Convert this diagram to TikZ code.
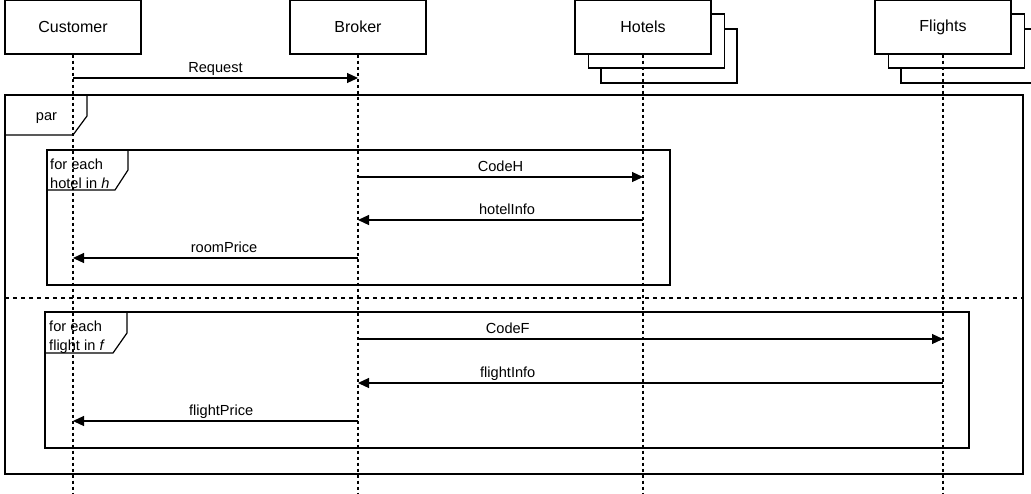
\documentclass[tikz,border=0pt]{standalone}
\usepackage{fontspec}
\setmainfont{Liberation Sans}
\usetikzlibrary{positioning}
\usetikzlibrary{arrows.meta}
\usetikzlibrary{calc}
\tikzset{>={Triangle[length=11pt,width=10pt]}}
\tikzset{actor/.style={draw,fill=white,line width=1.2pt,minimum width=136pt,minimum height=54pt,inner sep=0pt,font=\fontsize{16}{19}\selectfont}}
\tikzset{life/.style={line width=1.2pt,dash pattern=on 3pt off 3pt}}
\tikzset{msg/.style={->,line width=1.2pt}}
\tikzset{ed/.style={above,inner sep=2pt,text height=11pt,text depth=3pt,font=\fontsize{14.6}{17.5}\selectfont}}
\tikzset{frm/.style={line width=1.2pt}}
\tikzset{tab/.style={inner sep=1pt,align=left,font=\fontsize{14.6}{19}\selectfont}}

\begin{document}
\begin{tikzpicture}[x=1pt,y=-1pt]
\clip (0,0) rectangle (1031,493);
\fill[white] (0,0) rectangle (1031,493);

\node[actor] (customer) at (73,27) {Customer};
\node[actor] (broker) at (358,27) {Broker};
\node[actor] (hotels3) at (669,56) {};
\node[actor] (hotels2) at (656.5,41) {};
\node[actor] (hotels) at (643,27) {Hotels};
\node[actor] (flights3) at (969,56) {};
\node[actor] (flights2) at (956.5,41) {};
\node[actor] (flights) at (943,27) {Flights};

\coordinate (bottom) at (0,493);
\foreach \a in {customer,broker,hotels,flights}
  \draw[life] (\a.south) -- (\a.south |- bottom);

\coordinate (r0) at (0,78);
\coordinate (h1) at (0,177);
\coordinate (h2) at (0,220);
\coordinate (h3) at (0,258);
\coordinate (f1) at (0,339);
\coordinate (f2) at (0,383);
\coordinate (f3) at (0,421);

\draw[msg] (customer |- r0) -- node[ed] {Request} (broker |- r0);

\draw[frm] (5,95) rectangle (1023,474);
\draw[frm] (5,135) -- (73,135) -- (87,116) -- (87,95);
\node[tab, anchor=base] (par) at (46.5,120) {par};
\draw[frm, dash pattern=on 4pt off 4pt] (5,298) -- (1023,298);

\draw[frm] (47,150) rectangle (670,285);
\draw[frm] (47,190) -- (115,190) -- (128,170) -- (128,150);
\node[tab, anchor=north west] (loopH) at (49,158) {for each\\hotel in \textit{h}};

\draw[msg] (broker |- h1) -- node[ed] {CodeH} (hotels |- h1);
\draw[msg] (hotels |- h2) -- node[ed, pos=0.477] {hotelInfo} (broker |- h2);
\draw[msg] (broker |- h3) -- node[ed, pos=0.47] {roomPrice} (customer |- h3);

\draw[frm] (45,312) rectangle (969,448);
\draw[frm] (45,353) -- (113,353) -- (127,333) -- (127,312);
\node[tab, anchor=north west] (loopF) at (48,320) {for each\\flight in \textit{f}};

\draw[msg] (broker |- f1) -- node[ed, pos=0.256] {CodeF} (flights |- f1);
\draw[msg] (flights |- f2) -- node[ed, pos=0.744] {flightInfo} (broker |- f2);
\draw[msg] (broker |- f3) -- node[ed, pos=0.48] {flightPrice} (customer |- f3);
\end{tikzpicture}
\end{document}
